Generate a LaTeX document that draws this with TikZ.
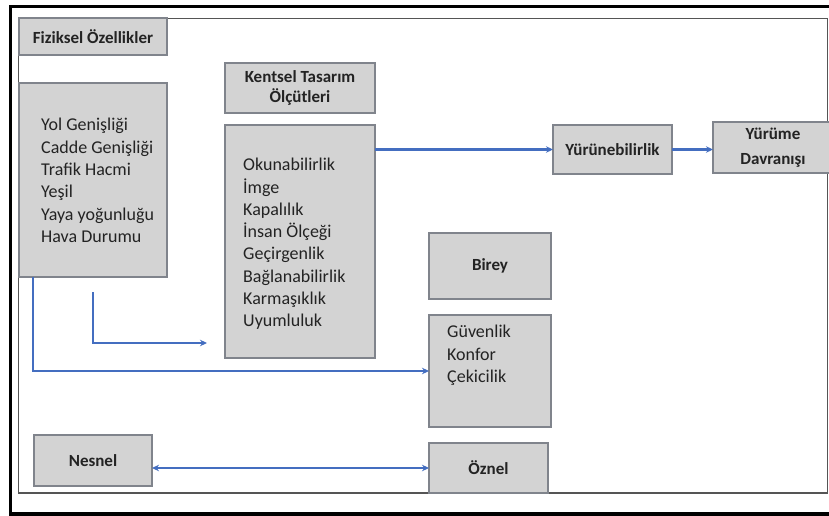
\documentclass[tikz,border=0pt]{standalone}
\usepackage{fontspec}
\setmainfont{Carlito}
\usetikzlibrary{arrows.meta}
\definecolor{boxfill}{RGB}{211,211,211}
\definecolor{boxline}{RGB}{128,132,140}
\definecolor{arr}{RGB}{68,110,192}
\definecolor{txt}{RGB}{35,35,35}
\definecolor{frameg}{RGB}{85,85,85}
\begin{document}
\begin{tikzpicture}[x=1pt,y=-1pt,
  box/.style={draw=boxline, line width=1.6pt, fill=boxfill, outer sep=0pt, inner sep=0pt,
    text=txt, align=center, font=\bfseries\fontsize{17}{20}\selectfont},
  listtext/.style={anchor=west, align=left, inner sep=0pt, text=txt,
    font=\fontsize{18}{22.3}\selectfont},
  conn/.style={draw=arr, line width=2.4pt, -{Stealth[length=7pt,width=6.5pt]}},
  conn2/.style={draw=arr, line width=2.4pt, {Stealth[length=7pt,width=6.5pt]}-{Stealth[length=7pt,width=6.5pt]}}]
\useasboundingbox (0,0) rectangle (829,516);
\clip (0,0) rectangle (829,516);
% frames
\draw[line width=3.5pt, black] (10.5,6.5) rectangle (845,514);
\draw[line width=1.8pt, frameg] (18.5,18.5) rectangle (827.5,493);
% boxes
\node[box, minimum width=148pt, minimum height=37pt] (fiz) at (93,36.5) {Fiziksel Özellikler};
\node[box, minimum width=148pt, minimum height=194pt] (fizlist) at (93,180) {};
\node[box, minimum width=150pt, minimum height=50pt] (kent) at (300,88) {Kentsel Tasarım\\Ölçütleri};
\node[box, minimum width=150pt, minimum height=233pt] (okun) at (300,241.5) {};
\node[box, minimum width=119pt, minimum height=49pt] (yurun) at (612.5,149.5) {Yürünebilirlik};
\node[box, minimum width=120pt, minimum height=51pt, font=\bfseries\fontsize{17}{24.5}\selectfont] (yurume) at (773,147.5) {Yürüme\\Davranışı};
\node[box, minimum width=122pt, minimum height=66pt] (birey) at (490,266) {Birey};
\node[box, minimum width=122pt, minimum height=112pt] (guv) at (490,371) {};
\node[box, minimum width=119pt, minimum height=50pt] (oznel) at (488.5,468) {Öznel};
\node[box, minimum width=118pt, minimum height=51pt] (nesnel) at (93,460.5) {Nesnel};
% list texts
\node[listtext] (fizlistT) at (41,180.5) {Yol Genişliği\\Cadde Genişliği\\Trafik Hacmi\\Yeşil\\Yaya yoğunluğu\\Hava Durumu};
\node[listtext] (okunT) at (243,244) {Okunabilirlik\\İmge\\Kapalılık\\İnsan Ölçeği\\Geçirgenlik\\Bağlanabilirlik\\Karmaşıklık\\Uyumluluk};
\node[listtext] (guvT) at (447,355.5) {Güvenlik\\Konfor\\Çekicilik};
% connectors
\draw[conn] (okun.east |- yurun.west) -- (yurun.west);
\draw[conn] (yurun.east) -- (yurun.east -| yurume.west);
\coordinate (c1) at (33,373);
\draw[conn] (fizlist.south -| c1) |- (guv.west);
\coordinate (s2) at (93,292);
\coordinate (e2) at (207,343);
\draw[conn] (s2) |- (e2);
\draw[conn2] (oznel.west -| nesnel.east) -- (oznel.west);
\end{tikzpicture}
\end{document}
